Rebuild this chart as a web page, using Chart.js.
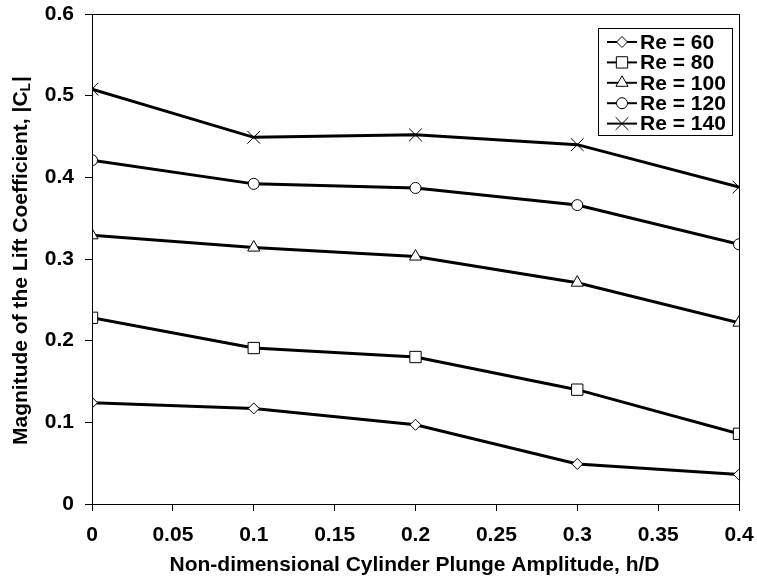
<!DOCTYPE html>
<html>
<head>
<meta charset="utf-8">
<script src="https://cdn.jsdelivr.net/npm/chart.js@4.4.1/dist/chart.umd.min.js"></script>
<style>
html, body { margin: 0; padding: 0; background: #fff; }
#wrap { width: 757px; height: 581px; }
</style>
</head>
<body>
<div id="wrap"><canvas id="lift_chart" width="757" height="581"></canvas></div>
<script>
// values
var amplitude = [0, 0.1, 0.2, 0.3, 0.4];
var re60  = [0.124, 0.117, 0.097, 0.049, 0.036];
var re80  = [0.228, 0.191, 0.180, 0.140, 0.086];
var re100 = [0.329, 0.314, 0.303, 0.271, 0.222];
var re120 = [0.421, 0.392, 0.387, 0.366, 0.318];
var re140 = [0.508, 0.449, 0.452, 0.440, 0.388];
var seriesLabels = ['Re = 60', 'Re = 80', 'Re = 100', 'Re = 120', 'Re = 140'];
var xTicks = [0, 0.05, 0.1, 0.15, 0.2, 0.25, 0.3, 0.35, 0.4];
var yTicks = [0, 0.1, 0.2, 0.3, 0.4, 0.5, 0.6];
var xTitle = 'Non-dimensional Cylinder Plunge Amplitude, h/D';
var yTitle = 'Magnitude of the Lift Coefficient, |C';

var FONT = "'Liberation Sans', Arial, sans-serif";

function pts(vals) {
    return vals.map(function (v, i) { return { x: amplitude[i], y: v }; });
}

function series(label, vals, style, radius) {
    return {
        label: label,
        data: pts(vals),
        borderColor: '#000',
        borderWidth: 3,
        pointStyle: style,
        pointRadius: radius,
        pointBackgroundColor: '#fff',
        pointBorderColor: '#000',
        pointBorderWidth: 1,
        tension: 0
    };
}

// box round the plot area
var framePlugin = {
    id: 'frame',
    afterDraw: function (chart) {
        var a = chart.chartArea, c = chart.ctx;
        c.save();
        c.strokeStyle = '#000';
        c.lineWidth = 1;
        c.strokeRect(Math.round(a.left) + 0.5, Math.round(a.top) + 0.5,
                     Math.round(a.right - a.left), Math.round(a.bottom - a.top));
        c.restore();
    }
};

// axis titles (y title needs the subscript L)
var titlesPlugin = {
    id: 'titles',
    afterDraw: function (chart) {
        var c = chart.ctx, a = chart.chartArea;
        c.save();
        c.fillStyle = '#000';
        c.textBaseline = 'middle';
        c.textAlign = 'center';
        c.font = 'bold 21px ' + FONT;
        c.fillText(xTitle, (a.left + a.right) / 2 - 1, 565);

        c.translate(21, 261);
        c.rotate(-Math.PI / 2);
        c.font = 'bold 21px ' + FONT;
        var w1 = c.measureText(yTitle).width;
        c.font = 'bold 14px ' + FONT;
        var w2 = c.measureText('L').width;
        c.font = 'bold 21px ' + FONT;
        var w3 = c.measureText('|').width;
        var x0 = -(w1 + w2 + w3) / 2;
        c.textAlign = 'left';
        c.fillText(yTitle, x0, 0);
        c.font = 'bold 14px ' + FONT;
        c.fillText('L', x0 + w1, 5);
        c.font = 'bold 21px ' + FONT;
        c.fillText('|', x0 + w1 + w2 + 1, 0);
        c.restore();
    }
};

// legend with line + marker samples
var legendPlugin = {
    id: 'lineLegend',
    afterDraw: function (chart) {
        var c = chart.ctx;
        var bx = 598, by = 28, bw = 134, bh = 107;
        c.save();
        c.fillStyle = '#fff';
        c.fillRect(bx, by, bw, bh);
        c.strokeStyle = '#000';
        c.lineWidth = 1;
        c.strokeRect(bx + 0.5, by + 0.5, bw, bh);
        chart.data.datasets.forEach(function (ds, i) {
            var y = by + 14 + i * 20.4;
            c.strokeStyle = '#000';
            c.lineWidth = 2;
            c.beginPath();
            c.moveTo(bx + 9, y);
            c.lineTo(bx + 39, y);
            c.stroke();
            c.fillStyle = '#fff';
            c.lineWidth = 1;
            Chart.helpers.drawPoint(c, { pointStyle: ds.pointStyle, radius: ds.pointRadius, rotation: 0, borderWidth: 1 }, bx + 24, y);
            c.fillStyle = '#000';
            c.font = 'bold 21px ' + FONT;
            c.textAlign = 'left';
            c.textBaseline = 'middle';
            c.fillText(ds.label, bx + 42, y + 1);
        });
        c.restore();
    }
};

var ctx = document.getElementById('lift_chart').getContext('2d');
var liftChart = new Chart(ctx, {
    type: 'line',
    data: {
        datasets: [
            series(seriesLabels[0], re60, 'rectRot', 5.5),
            series(seriesLabels[1], re80, 'rect', 8),
            series(seriesLabels[2], re100, 'triangle', 7),
            series(seriesLabels[3], re120, 'circle', 5.5),
            series(seriesLabels[4], re140, 'crossRot', 9)
        ]
    },
    options: {
        responsive: false,
        animation: false,
        layout: { padding: { top: 14, right: 18, left: 0, bottom: 0 } },
        plugins: {
            legend: { display: false },
            tooltip: { enabled: false }
        },
        scales: {
            x: {
                type: 'linear',
                min: 0,
                max: 0.4,
                afterFit: function (s) {
                    s.height = 77;
                    s.paddingLeft = 0; s.paddingRight = 0;
                },
                afterBuildTicks: function (s) { s.ticks = xTicks.map(function (v) { return { value: v }; }); },
                grid: { drawOnChartArea: false, drawTicks: true, tickLength: 7, color: '#000', lineWidth: 1 },
                border: { display: true, color: '#000', width: 1 },
                ticks: {
                    color: '#000',
                    padding: 12,
                    maxRotation: 0,
                    autoSkip: false,
                    font: { family: FONT, size: 21, weight: 'bold' },
                    callback: function (v) { return String(parseFloat(v.toFixed(2))); }
                }
            },
            y: {
                min: 0,
                max: 0.6,
                afterFit: function (s) {
                    s.width = 92;
                    s.paddingTop = 0; s.paddingBottom = 0;
                },
                afterBuildTicks: function (s) { s.ticks = yTicks.map(function (v) { return { value: v }; }); },
                grid: { drawOnChartArea: false, drawTicks: true, tickLength: 7, color: '#000', lineWidth: 1 },
                border: { display: true, color: '#000', width: 1 },
                ticks: {
                    color: '#000',
                    padding: 11,
                    autoSkip: false,
                    font: { family: FONT, size: 21, weight: 'bold' },
                    callback: function (v) { return String(parseFloat(v.toFixed(2))); }
                }
            }
        }
    },
    plugins: [framePlugin, titlesPlugin, legendPlugin]
});
</script>
</body>
</html>
